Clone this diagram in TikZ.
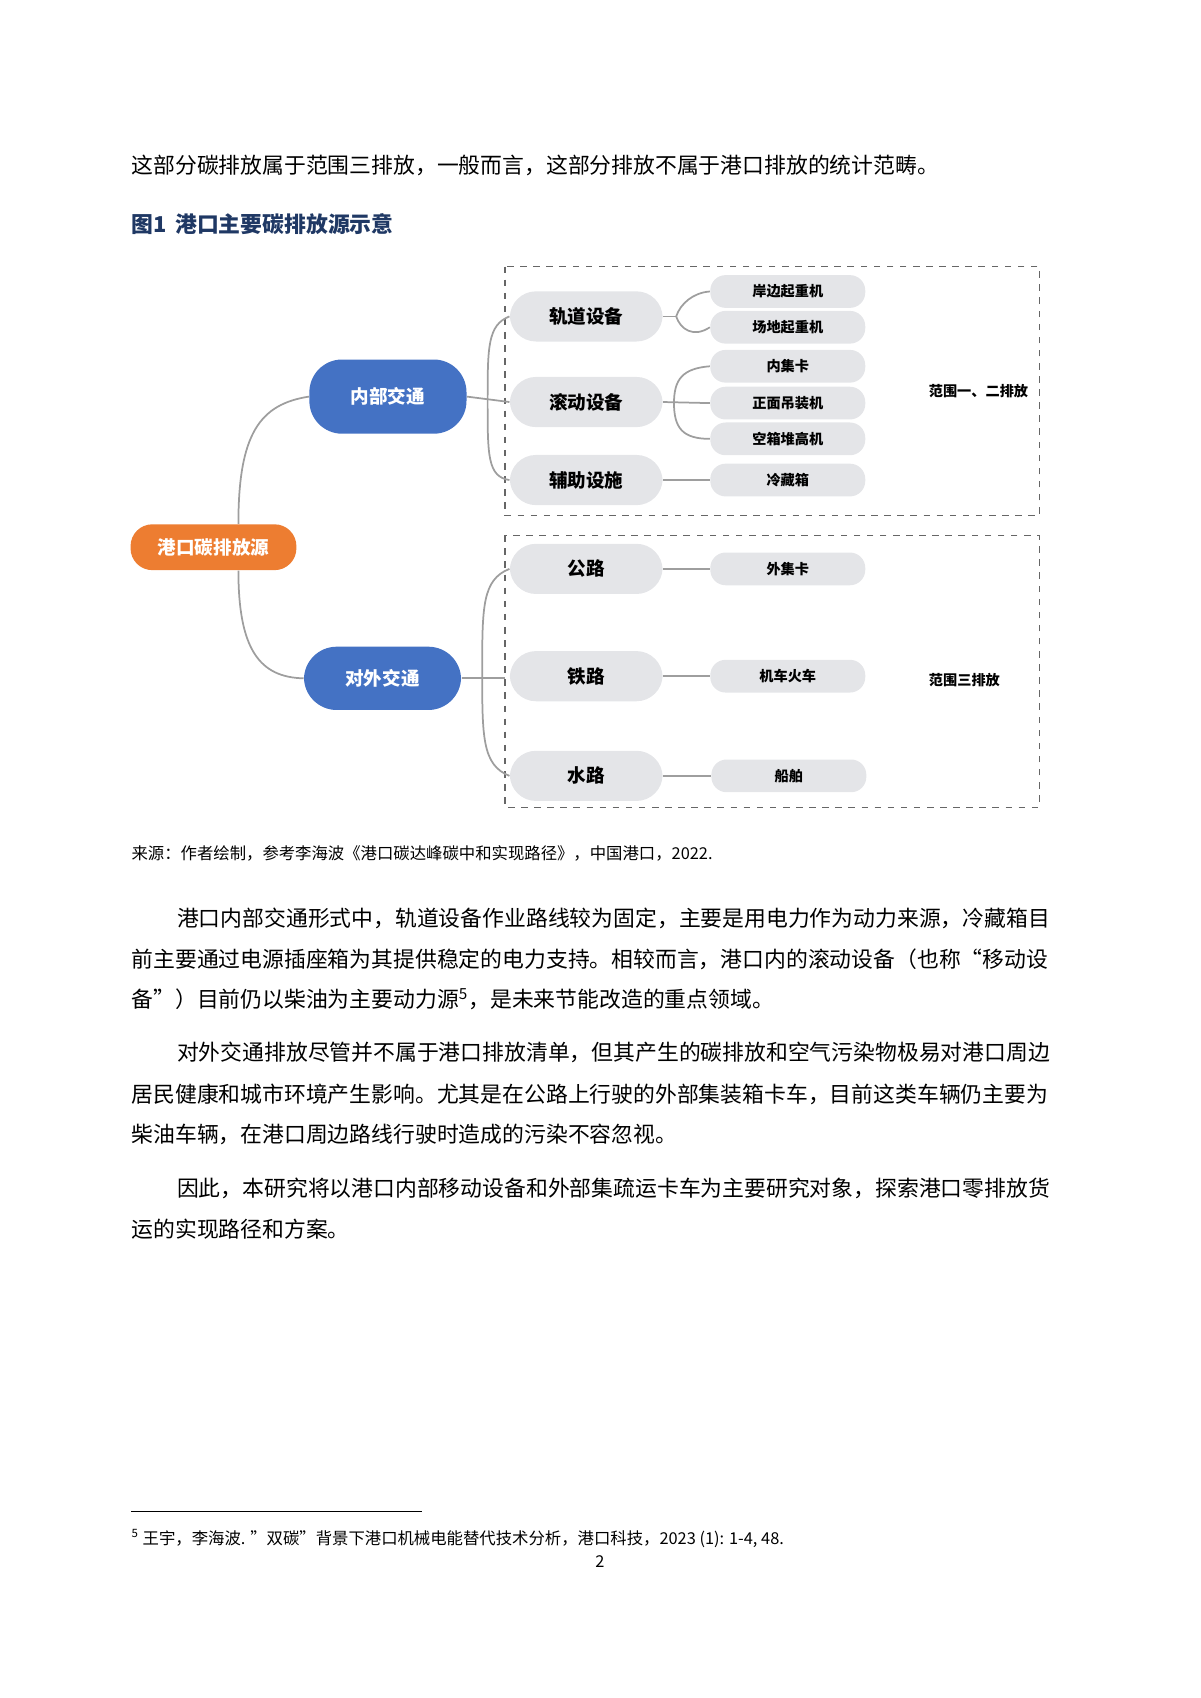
\documentclass[tikz,border=0pt]{standalone}
\usepackage{fontspec}
\setmainfont{Noto Sans CJK SC}
\begin{document}
\begin{tikzpicture}[x=0.4965pt,y=-0.4965pt,
  conn/.style={draw=black!38,line width=0.8pt},
  pill/.style={rounded corners=12pt,inner sep=0pt,font=\bfseries},
  bluebox/.style={pill,fill=blueC,text=white,minimum width=72pt,minimum height=31pt,rounded corners=15pt,font=\bfseries\fontsize{8.5}{10}\selectfont},
  graybox/.style={pill,fill=grayC,minimum width=70pt,minimum height=23pt,font=\bfseries\fontsize{8.5}{10}\selectfont},
  leaf/.style={pill,fill=grayC,minimum width=71pt,minimum height=15pt,rounded corners=7pt,font=\bfseries\fontsize{6.5}{8}\selectfont},
  body/.style={anchor=base west,inner sep=0pt,font=\fontsize{10}{12}\selectfont},
  scopebox/.style={draw=black!60,dashed,line width=0.6pt}]
\definecolor{blueC}{HTML}{4472C4}
\definecolor{orangeC}{HTML}{ED7D31}
\definecolor{grayC}{HTML}{E4E5E8}
\definecolor{titleC}{HTML}{1F3864}
\useasboundingbox (0,0) rectangle (1108,1567);
\node[body] (t1) at (121,160) {这部分碳排放属于范围三排放，一般而言，这部分排放不属于港口排放的统计范畴。};
\node[body,font=\bfseries\fontsize{10}{12}\selectfont,text=titleC] (title) at (121,215) {图1\, 港口主要碳排放源示意};
\draw[scopebox] (466,246) rectangle (959,476);
\draw[scopebox] (466,494) rectangle (959,745);
\node[pill,fill=orangeC,text=white,minimum width=76pt,minimum height=21pt,rounded corners=10pt,font=\bfseries\fontsize{8.5}{10}\selectfont] (root) at (197,505) {港口碳排放源};
\node[bluebox,minimum height=34pt] (inner) at (358,366) {内部交通};
\node[bluebox,minimum height=29pt] (outer) at (353,626) {对外交通};
\node[graybox] (g1) at (541,292) {轨道设备};
\node[graybox] (g2) at (541,371) {滚动设备};
\node[graybox] (g3) at (541,443) {辅助设施};
\node[graybox] (g4) at (541,525) {公路};
\node[graybox] (g5) at (541,624) {铁路};
\node[graybox] (g6) at (541,716) {水路};
\node[leaf] (l1) at (727,269) {岸边起重机};
\node[leaf] (l2) at (727,302) {场地起重机};
\node[leaf] (l3) at (727,338) {内集卡};
\node[leaf] (l4) at (727,372) {正面吊装机};
\node[leaf] (l5) at (727,405) {空箱堆高机};
\node[leaf] (l6) at (727,443) {冷藏箱};
\node[leaf] (l7) at (727,525) {外集卡};
\node[leaf] (l8) at (727,624) {机车火车};
\node[leaf] (l9) at (728,716) {船舶};
\node[font=\bfseries\fontsize{6.5}{8}\selectfont] (s12) at (903,361) {范围一、二排放};
\node[font=\bfseries\fontsize{6.5}{8}\selectfont] (s3) at (890,628) {范围三排放};
\draw[conn] (root.north) ++(23,0) coordinate (ru) .. controls (220,400) and (240,373) .. (inner.west);
\draw[conn] (root.south) ++(23,0) coordinate (rd) .. controls (220,600) and (240,625) .. (outer.west);
\draw[conn] (inner.east) -- (g2.west);
\draw[conn] (g1.west) .. controls (450,300) and (450,320) .. (450,371) .. controls (450,420) and (450,440) .. (g3.west);
\draw[conn] (outer.east) -- (466,626) coordinate (oc);
\draw[conn] (g4.west) .. controls (445,535) and (445,560) .. (445,620) .. controls (445,680) and (445,706) .. (g6.west);
\draw[conn] (g1.east) -- (624,292) coordinate (b1);
\draw[conn] (b1) .. controls (628,280) and (640,270) .. (l1.west);
\draw[conn] (b1) .. controls (628,304) and (640,312) .. (l2.west);
\draw[conn] (g2.east) -- (l4.west);
\draw[conn] (l3.west) .. controls (630,340) and (622,350) .. (622,372) .. controls (622,395) and (630,405) .. (l5.west);
\draw[conn] (g3.east) -- (l6.west);
\draw[conn] (g4.east) -- (l7.west);
\draw[conn] (g5.east) -- (l8.west);
\draw[conn] (g6.east) -- (l9.west);
\node[body,font=\fontsize{7.5}{9}\selectfont] (cap) at (121,793) {来源：作者绘制，参考李海波《港口碳达峰碳中和实现路径》，中国港口，2022.};
\node[body] (p1) at (163,855) {港口内部交通形式中，轨道设备作业路线较为固定，主要是用电力作为动力来源，冷藏箱目};
\node[body] (p2) at (121,893) {前主要通过电源插座箱为其提供稳定的电力支持。相较而言，港口内的滚动设备（也称“移动设};
\node[body] (p3) at (121,930) {备”）目前仍以柴油为主要动力源\textsuperscript{5}，是未来节能改造的重点领域。};
\node[body] (p4) at (163,979) {对外交通排放尽管并不属于港口排放清单，但其产生的碳排放和空气污染物极易对港口周边};
\node[body] (p5) at (121,1017) {居民健康和城市环境产生影响。尤其是在公路上行驶的外部集装箱卡车，目前这类车辆仍主要为};
\node[body] (p6) at (121,1054) {柴油车辆，在港口周边路线行驶时造成的污染不容忽视。};
\node[body] (p7) at (163,1104) {因此，本研究将以港口内部移动设备和外部集疏运卡车为主要研究对象，探索港口零排放货};
\node[body] (p8) at (121,1142) {运的实现路径和方案。};
\draw[line width=0.6pt] (121,1395) -- (389,1395);
\node[body,font=\fontsize{7.5}{9}\selectfont] (fn) at (121,1425) {\textsuperscript{5} 王宇，李海波. {\symbol{34}}双碳{\symbol{34}}背景下港口机械电能替代技术分析，港口科技，2023 (1): 1-4, 48.};
\node[body,font=\fontsize{7.5}{9}\selectfont] (pg) at (549,1447) {2};
\end{tikzpicture}
\end{document}
